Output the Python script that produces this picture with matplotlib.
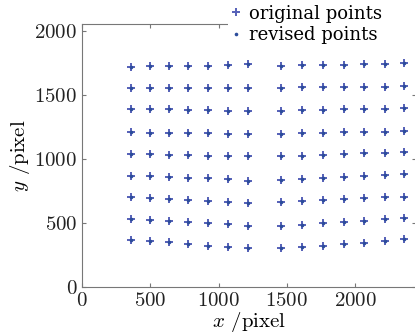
import matplotlib.pyplot as plt
from matplotlib.patches import Rectangle
import numpy as np

plt.rcParams['font.family'] = 'cmr10'
plt.rcParams['mathtext.fontset'] = 'cm'
plt.rcParams['axes.formatter.use_mathtext'] = True

# column positions of the calibration grid (pixel)
col_x = [360, 496, 635, 776, 920, 1067, 1213, 1457, 1611, 1764, 1916, 2068, 2216, 2361]

# y of each point, one list per row (top to bottom)
row_y = [
    [1718, 1723, 1723, 1723, 1723, 1731, 1737, 1726, 1731, 1731, 1731, 1737, 1739, 1745],
    [1555, 1555, 1555, 1555, 1555, 1555, 1555, 1555, 1558, 1558, 1558, 1564, 1564, 1568],
    [1386, 1386, 1386, 1381, 1381, 1373, 1373, 1375, 1381, 1381, 1386, 1389, 1389, 1394],
    [1212, 1204, 1199, 1199, 1199, 1194, 1192, 1194, 1199, 1204, 1207, 1212, 1212, 1217],
    [1040, 1038, 1034, 1030, 1026, 1019, 1019, 1023, 1025, 1030, 1036, 1044, 1048, 1051],
    [869, 867, 861, 854, 849, 841, 830, 836, 841, 849, 857, 867, 875, 882],
    [701, 693, 685, 680, 672, 662, 654, 662, 672, 680, 685, 693, 701, 706],
    [532, 524, 519, 511, 503, 493, 477, 477, 485, 503, 511, 519, 530, 537],
    [368, 361, 351, 337, 324, 316, 304, 304, 312, 322, 335, 347, 363, 374],
]

orig_x = np.tile(col_x, len(row_y))
orig_y = np.array(row_y).ravel()
rev_x = orig_x.copy()
rev_y = orig_y.copy()

fig = plt.figure(figsize=(4.15, 3.34), dpi=100)
ax = fig.add_axes([0.198, 0.14, 0.805, 0.787])

ax.plot(orig_x, orig_y, '+', color='#5560b8', markersize=6, mew=1.4, label='original points')
ax.plot(rev_x, rev_y, 'o', color='#2b4c9b', markersize=2.6, mew=0, label='revised points')

ax.set_xlim(0, 2448)
ax.set_ylim(0, 2048)
ax.set_xticks([0, 500, 1000, 1500, 2000])
ax.set_yticks([0, 500, 1000, 1500, 2000])
ax.tick_params(direction='in', length=3, top=True, right=True, labelsize=15, colors='#222222')
ax.tick_params(color='#777777')
for s in ax.spines.values():
    s.set_color('#777777')

ax.set_xlabel('$x$ /pixel', fontsize=15, labelpad=0)
ax.set_ylabel('$y$ /pixel', fontsize=15, labelpad=2)

# white block behind the legend hides the top of the frame there
fig.add_artist(Rectangle((228 / 415, 1 - 46 / 334), 1, 1, transform=fig.transFigure,
                         facecolor='white', edgecolor='none', zorder=3))

handles, labels = ax.get_legend_handles_labels()
fig.legend(handles, labels, loc='upper left', bbox_to_anchor=(229 / 415, 1 - 3 / 334),
           prop={'family': 'DejaVu Serif', 'size': 13},
           frameon=False, borderpad=0.1, handlelength=0.6, handletextpad=0.4,
           labelspacing=0.2, borderaxespad=0)

fig.savefig('out.png', dpi=100)
